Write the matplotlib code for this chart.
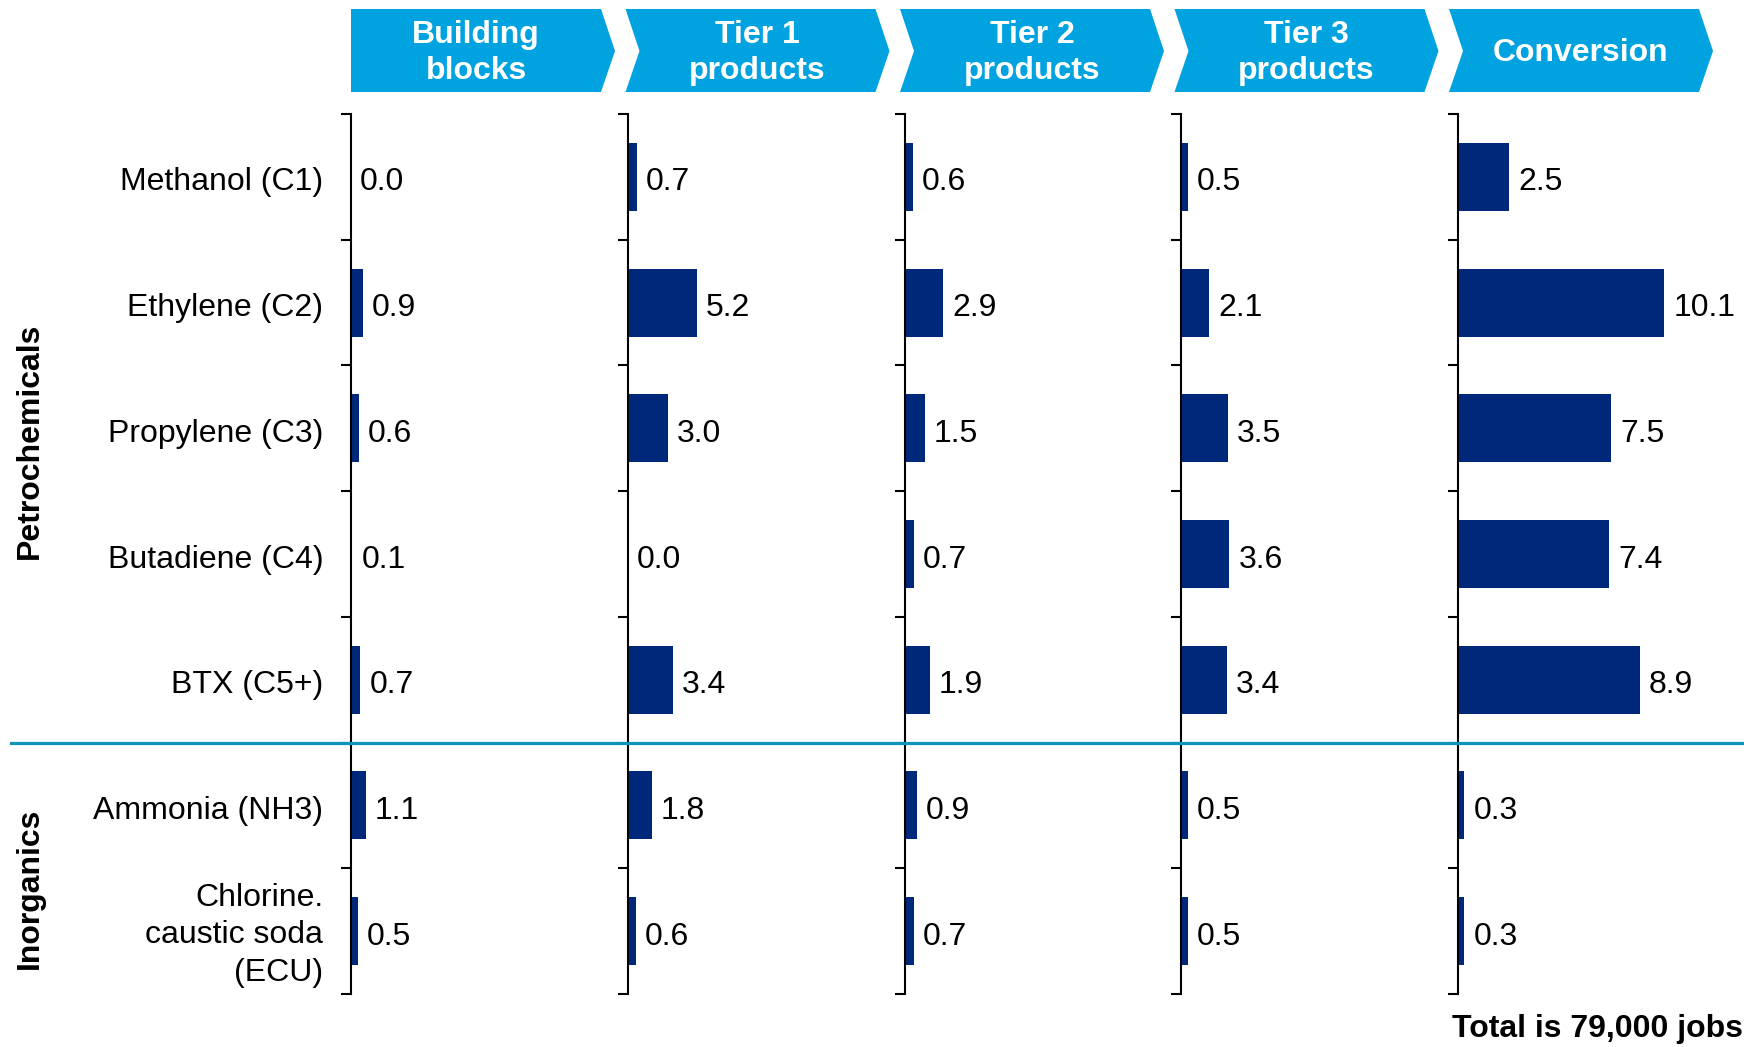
import matplotlib
matplotlib.use("Agg")
import matplotlib.pyplot as plt
from matplotlib.patches import Polygon
from matplotlib.lines import Line2D

plt.rcParams['font.family'] = ['Liberation Sans', 'DejaVu Sans']

categories = [
    "Methanol (C1)",
    "Ethylene (C2)",
    "Propylene (C3)",
    "Butadiene (C4)",
    "BTX (C5+)",
    "Ammonia (NH3)",
    "Chlorine.\ncaustic soda\n(ECU)",
]
stages = ["Building\nblocks", "Tier 1\nproducts", "Tier 2\nproducts", "Tier 3\nproducts", "Conversion"]
building_blocks = [0.0, 0.9, 0.6, 0.1, 0.7, 1.1, 0.5]
tier1 = [0.7, 5.2, 3.0, 0.0, 3.4, 1.8, 0.6]
tier2 = [0.6, 2.9, 1.5, 0.7, 1.9, 0.9, 0.7]
tier3 = [0.5, 2.1, 3.5, 3.6, 3.4, 0.5, 0.5]
conversion = [2.5, 10.1, 7.5, 7.4, 8.9, 0.3, 0.3]
groups = ["Petrochemicals", "Inorganics"]
total_note = "Total is 79,000 jobs"

series = [building_blocks, tier1, tier2, tier3, conversion]
xmax = [18.8, 18.8, 18.8, 18.8, 12.25]

W, H = 1744, 1047
BAR = "#00287A"
CHEV = "#00A3E0"
TEAL = "#0E93B9"
FS = 23

fig = plt.figure(figsize=(W / 100, H / 100), dpi=100)


def fx(px):
    return px / W


def fy(py):
    return 1 - py / H


# header chevrons
for i, name in enumerate(stages):
    left = 351 + i * 274.5
    right = left + 250
    depth = 14
    top, bot, mid = 9, 92, 51
    if i == 0:
        pts = [(left, top), (right, top), (right + depth, mid), (right, bot), (left, bot)]
        inner = left
    else:
        pts = [(left, top), (right, top), (right + depth, mid), (right, bot), (left, bot), (left + depth, mid)]
        inner = left + depth
    fig.patches.append(Polygon([(fx(x), fy(y)) for x, y in pts], closed=True,
                               transform=fig.transFigure, facecolor=CHEV, edgecolor="none"))
    fig.text(fx((inner + right) / 2), fy(mid + 2), name, color="white", fontsize=FS,
             fontweight="bold", ha="center", va="center", linespacing=1.3)

# panels
n = len(categories)
ax_top, ax_bot = 114, 994
for i, vals in enumerate(series):
    left = 351 + i * 276.8
    ax = fig.add_axes([fx(left), fy(ax_bot), fx(250), (ax_bot - ax_top) / H])
    ax.barh([k + 0.5 for k in range(n)], vals, height=0.54, color=BAR)
    ax.set_ylim(n, 0)
    ax.set_xlim(0, xmax[i])
    for s in ["top", "right", "bottom"]:
        ax.spines[s].set_visible(False)
    ax.spines["left"].set_linewidth(1.5)
    ax.set_xticks([])
    ax.set_yticks(range(n + 1))
    ax.set_yticklabels([])
    ax.tick_params(axis="y", direction="out", length=7, width=1.5)
    ax.patch.set_alpha(0)
    for k, v in enumerate(vals):
        ax.annotate(f"{v:.1f}", xy=(v, k + 0.5), xytext=(6.5, -1.5), textcoords="offset points",
                    ha="left", va="center_baseline", fontsize=FS, annotation_clip=False)
    if i == 0:
        for k, c in enumerate(categories):
            multi = "\n" in c
            ax.annotate(c, xy=(0, k + 0.5), xycoords=ax.get_yaxis_transform(),
                        xytext=(-20, -3 if multi else -1.5), textcoords="offset points",
                        ha="right", va="center" if multi else "center_baseline",
                        fontsize=FS, linespacing=1.33, annotation_clip=False)

# group labels and separator
fig.text(fx(30), fy(441), groups[0], rotation=90, fontsize=FS, fontweight="bold",
         ha="center", va="center")
fig.text(fx(30), fy(888), groups[1], rotation=90, fontsize=FS, fontweight="bold",
         ha="center", va="center")
fig.lines.append(Line2D([fx(11), 1], [fy(742.5), fy(742.5)], transform=fig.transFigure,
                        color=TEAL, linewidth=2.3))

fig.text(fx(1743), fy(1029), total_note, fontsize=FS, fontweight="bold", ha="right", va="center")

fig.savefig("out.png", dpi=100)
